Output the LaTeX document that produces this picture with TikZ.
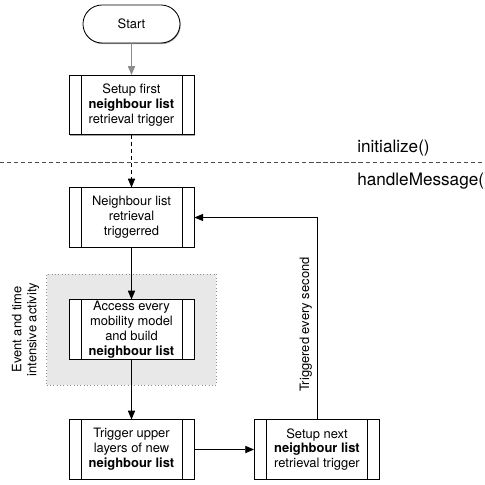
\documentclass[tikz,border=0pt]{standalone}
\usepackage{fontspec}
\setmainfont{TeX Gyre Heros}
\usepackage{tikz}
\usetikzlibrary{arrows.meta, positioning, fit, backgrounds, shadows}
\definecolor{regiongray}{RGB}{232,232,232}
\newcommand{\boxfont}{\fontsize{9.2}{10.6}\selectfont}

\begin{document}
\begin{tikzpicture}[
    node distance=2.8cm, on grid,
    boxshadow/.style={drop shadow={shadow xshift=0.5pt, shadow yshift=-0.8pt, fill=black!60, opacity=0.6}},
    term/.style={rectangle, draw, line width=0.6pt, rounded corners=0.475cm, fill=white, minimum width=2.425cm, minimum height=0.95cm, font=\boxfont, boxshadow},
    proc/.style={rectangle, draw, line width=0.6pt, fill=white, minimum width=3.125cm, minimum height=1.48cm, align=center, font=\boxfont, inner xsep=1pt, inner ysep=0pt, boxshadow,
        path picture={
            \draw[line width=0.6pt] ([xshift=0.3cm]path picture bounding box.north west) -- ([xshift=0.3cm]path picture bounding box.south west);
            \draw[line width=0.6pt] ([xshift=-0.3cm]path picture bounding box.north east) -- ([xshift=-0.3cm]path picture bounding box.south east);
        }},
    region/.style={rectangle, draw=black!45, dotted, fill=regiongray, inner xsep=0.55cm, inner ysep=0.64cm},
    phase/.style={font=\fontsize{12.2}{14}\selectfont, inner sep=0pt},
    note/.style={font=\boxfont, align=center},
    arrow/.style={-{Triangle[length=2.2mm, width=1.8mm]}, line width=0.6pt}
]
    \useasboundingbox (-3.2875,0.6) rectangle (8.8375,-11.525);

    % Start and initialisation
    \node[term] (start) {Start};
    \node[proc, below=2.025cm of start] (first) {Setup first\\\textbf{neighbour list}\\retrieval trigger};

    % Phase separator
    \coordinate (sepl) at (-3.2875,-3.45);
    \coordinate (sepr) at (8.8375,-3.45);
    \draw[dashed, dash pattern=on 3pt off 2pt, black!70, line width=0.6pt] (sepl) -- (sepr);
    \node[phase, anchor=base west] (init) at (5.6375,-3.2) {initialize()};
    \node[phase, anchor=base west] (handle) at (5.6375,-4.025) {handleMessage()};

    % Message handling
    \node[proc, below=2.8125cm of first] (trig) {Neighbour list\\retrieval\\triggerred};
    \node[proc, below=of trig] (access) {Access every\\mobility model\\and build\\\textbf{neighbour list}};
    \node[proc, below=3cm of access] (upper) {Trigger upper\\layers of new\\\textbf{neighbour list}};
    \node[proc, right=4.6375cm of upper] (next) {Setup next\\\textbf{neighbour list}\\retrieval trigger};

    % Intensive region
    \begin{scope}[on background layer]
        \node[region, fit=(access)] (heavy) {};
    \end{scope}
    \node[note, rotate=90, anchor=south, inner sep=0pt] (heavylabel) at ([xshift=-0.17cm]heavy.west) {Event and time\\intensive activity};

    % Arrows
    \draw[arrow, black!45] (start) -- (first);
    \draw[arrow, dashed, dash pattern=on 3pt off 2pt] (first) -- (trig);
    \draw[arrow] (trig) -- (access);
    \draw[arrow] (access) -- (upper);
    \draw[arrow] (upper) -- (next);
    \draw[arrow] (next.north) |- node[pos=0.235, sloped, above, font=\boxfont] {Triggered every second} (trig.east);
\end{tikzpicture}
\end{document}
